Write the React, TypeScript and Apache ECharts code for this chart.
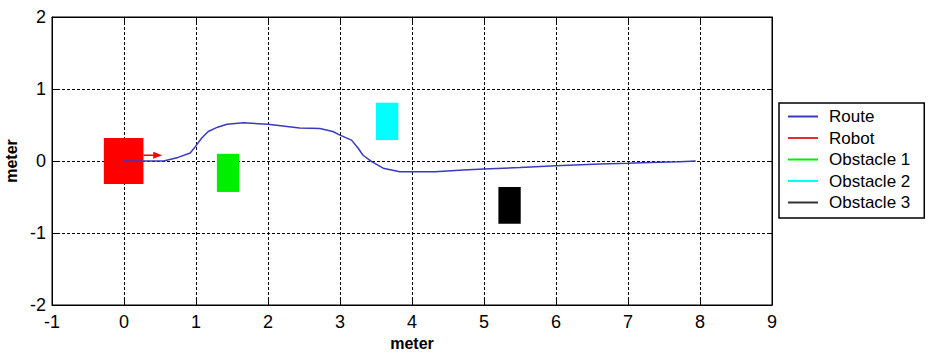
import React, { useEffect, useRef } from "react";
import * as echarts from "echarts";

// Route (meters)
const routeX = [0, 0.3, 0.55, 0.75, 0.92, 0.99, 1.08, 1.17, 1.3, 1.43, 1.66, 2.0, 2.44, 2.72, 2.9, 3.0, 3.16, 3.25, 3.32, 3.44, 3.6, 3.83, 3.99, 4.32, 4.71, 5.0, 5.5, 6.0, 6.61, 7.0, 7.3, 7.72, 7.94];
const routeY = [0, 0, 0, 0.05, 0.11, 0.2, 0.32, 0.41, 0.47, 0.51, 0.53, 0.51, 0.46, 0.45, 0.41, 0.36, 0.29, 0.18, 0.08, -0.01, -0.1, -0.15, -0.15, -0.15, -0.125, -0.11, -0.09, -0.065, -0.04, -0.03, -0.02, -0.01, 0];

// Robot body and heading arrow
const robotBox = [-0.28, 0.27, -0.32, 0.32]; // xMin, xMax, yMin, yMax
const robotArrow = [0.27, 0.53, 0.08]; // xStart, xEnd, y

// Obstacles
const obstacleNames = ["Obstacle 1", "Obstacle 2", "Obstacle 3"];
const obstacleXMin = [1.29, 3.5, 5.2];
const obstacleXMax = [1.6, 3.81, 5.51];
const obstacleYMin = [-0.43, 0.29, -0.87];
const obstacleYMax = [0.1, 0.81, -0.36];
const obstacleColors = ["#00ee00", "#00ffff", "#000000"];

const xTicks = [-1, 0, 1, 2, 3, 4, 5, 6, 7, 8, 9];
const yTicks = [-2, -1, 0, 1, 2];

const FONT = "'Liberation Sans', Arial, Helvetica, sans-serif";

export default function App() {
  const ref = useRef<HTMLDivElement>(null);

  useEffect(() => {
    document.body.style.margin = "0";
    if (!ref.current) return;
    const chart = echarts.init(ref.current, undefined, { renderer: "svg" });

    const splitLine = { show: true, lineStyle: { color: "#000", type: [3, 2] as any, width: 1 } };
    const tick = { show: true, inside: true, length: 5, lineStyle: { color: "#000" } };

    const rectRender = (color: string) => (params: any, api: any) => {
      const p1 = api.coord([api.value(0), api.value(3)]);
      const p2 = api.coord([api.value(1), api.value(2)]);
      return {
        type: "rect",
        shape: { x: p1[0], y: p1[1], width: p2[0] - p1[0], height: p2[1] - p1[1] },
        style: { fill: color },
      };
    };

    const robotRender = (params: any, api: any) => {
      const p1 = api.coord([api.value(0), api.value(3)]);
      const p2 = api.coord([api.value(1), api.value(2)]);
      const a1 = api.coord([api.value(4), api.value(6)]);
      const a2 = api.coord([api.value(5), api.value(6)]);
      return {
        type: "group",
        children: [
          {
            type: "rect",
            shape: { x: p1[0], y: p1[1], width: p2[0] - p1[0], height: p2[1] - p1[1] },
            style: { fill: "#ff0000" },
          },
          {
            type: "line",
            shape: { x1: a1[0], y1: a1[1], x2: a2[0] - 6, y2: a2[1] },
            style: { stroke: "#ff0000", lineWidth: 1.5 },
          },
          {
            type: "polygon",
            shape: { points: [[a2[0], a2[1]], [a2[0] - 9, a2[1] - 3.5], [a2[0] - 9, a2[1] + 3.5]] },
            style: { fill: "#ff0000" },
          },
        ],
      };
    };

    const series: any[] = [
      {
        name: "Route",
        type: "line",
        data: routeX.map((x, i) => [x, routeY[i]]),
        symbol: "none",
        lineStyle: { color: "#3a3ac0", width: 1.5 },
        itemStyle: { color: "#3a3ac0" },
        z: 5,
      },
      {
        name: "Robot",
        type: "custom",
        renderItem: robotRender,
        data: [[robotBox[0], robotBox[1], robotBox[2], robotBox[3], robotArrow[0], robotArrow[1], robotArrow[2]]],
        encode: { x: [0, 1], y: [2, 3] },
        itemStyle: { color: "#e03030" },
        z: 3,
      },
      ...obstacleNames.map((n, i) => ({
        name: n,
        type: "custom",
        renderItem: rectRender(obstacleColors[i]),
        data: [[obstacleXMin[i], obstacleXMax[i], obstacleYMin[i], obstacleYMax[i]]],
        encode: { x: [0, 1], y: [2, 3] },
        itemStyle: { color: i === 2 ? "#333" : obstacleColors[i] },
        z: 3,
      })),
    ];

    const nameStyle = { fontFamily: FONT, fontSize: 16, fontWeight: "bold", color: "#000" };
    const labelStyle = { fontFamily: FONT, fontSize: 18, color: "#000" };

    chart.setOption({
      animation: false,
      backgroundColor: "#fff",
      grid: {
        left: 52,
        top: 17,
        width: 720,
        height: 288,
        outerBoundsMode: "none",
        containLabel: false,
        show: true,
        borderColor: "#000",
        borderWidth: 1,
      },
      legend: {
        orient: "vertical",
        left: 779,
        top: 103,
        icon: "rect",
        itemWidth: 30,
        itemHeight: 2,
        itemGap: 4.5,
        padding: [5, 14, 7, 9],
        borderColor: "#000",
        borderWidth: 1.5,
        textStyle: { fontFamily: FONT, fontSize: 17, color: "#000", lineHeight: 17, padding: [0, 0, 0, 6] },
        data: ["Route", "Robot", ...obstacleNames],
      },
      xAxis: [
        {
          type: "value",
          min: xTicks[0],
          max: xTicks[xTicks.length - 1],
          interval: 1,
          name: "meter",
          nameLocation: "middle",
          nameGap: 30,
          nameTextStyle: nameStyle,
          axisLine: { show: true, onZero: false, lineStyle: { color: "#000" } },
          axisTick: tick,
          axisLabel: { ...labelStyle, margin: 8 },
          splitLine,
        },
        {
          type: "value",
          position: "top",
          min: xTicks[0],
          max: xTicks[xTicks.length - 1],
          interval: 1,
          axisLine: { show: true, onZero: false, lineStyle: { color: "#000" } },
          axisTick: tick,
          axisLabel: { show: false },
          splitLine: { show: false },
        },
      ],
      yAxis: [
        {
          type: "value",
          min: yTicks[0],
          max: yTicks[yTicks.length - 1],
          interval: 1,
          name: "meter",
          nameLocation: "middle",
          nameGap: 32,
          nameTextStyle: nameStyle,
          axisLine: { show: true, onZero: false, lineStyle: { color: "#000" } },
          axisTick: tick,
          axisLabel: { ...labelStyle, margin: 6 },
          splitLine,
        },
        {
          type: "value",
          position: "right",
          min: yTicks[0],
          max: yTicks[yTicks.length - 1],
          interval: 1,
          axisLine: { show: true, onZero: false, lineStyle: { color: "#000" } },
          axisTick: tick,
          axisLabel: { show: false },
          splitLine: { show: false },
        },
      ],
      series,
    });

    return () => chart.dispose();
  }, []);

  return <div ref={ref} style={{ width: 929, height: 353 }} />;
}
